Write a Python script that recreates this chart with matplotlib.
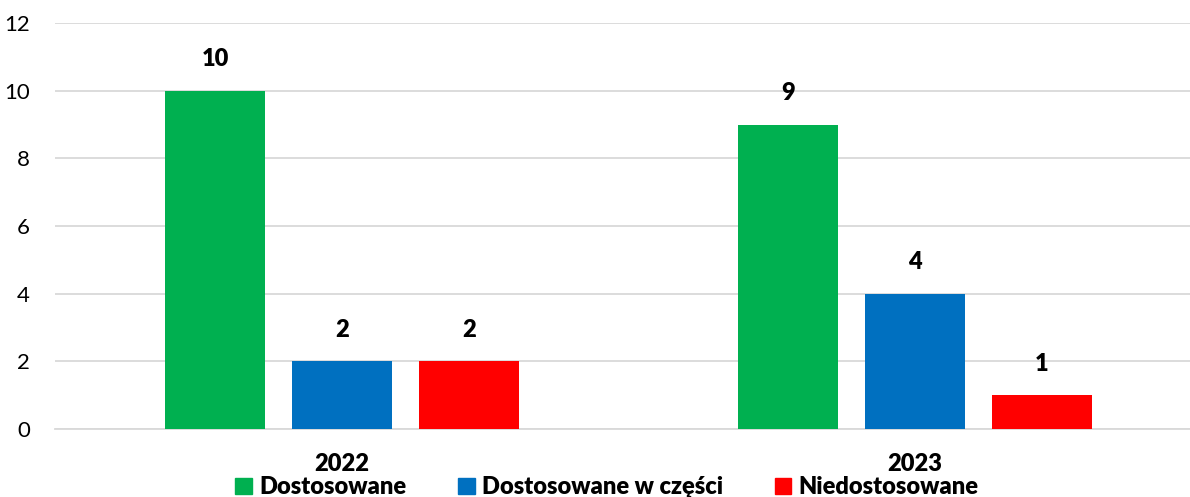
import numpy as np
import matplotlib.pyplot as plt
from matplotlib.patches import Patch

years = ['2022', '2023']
series = ['Dostosowane', 'Dostosowane w części', 'Niedostosowane']
values = {
    'Dostosowane': [10, 9],
    'Dostosowane w części': [2, 4],
    'Niedostosowane': [2, 1],
}
colors = ['#00b050', '#0070c0', '#ff0000']

plt.rcParams['font.family'] = ['Lato', 'DejaVu Sans']

fig = plt.figure(figsize=(11.9, 4.97), dpi=100)
ax = fig.add_axes([55 / 1190, 1 - 429 / 497, 1 - 55 / 1190, (429 - 23) / 497])

x = np.arange(len(years))
width = 0.1745
step = 0.2216
for i, name in enumerate(series):
    pos = x + (i - 1) * step
    bars = ax.bar(pos, values[name], width, color=colors[i], zorder=3)
    for b, v in zip(bars, values[name]):
        ax.text(b.get_x() + b.get_width() / 2, v + 0.6, str(v),
                ha='center', va='bottom', fontsize=17, fontweight='heavy')

ax.set_xlim(-0.501, 1.48)
ax.set_ylim(0, 12)
ax.set_yticks(range(0, 13, 2))
ax.yaxis.grid(True, color='#d9d9d9', linewidth=1.3, zorder=0)
ax.set_xticks(x)
ax.set_xticklabels(years, fontsize=17, fontweight='heavy')
ax.tick_params(axis='x', length=0, pad=17)
ax.tick_params(axis='y', length=0, labelsize=16, pad=18)
for s in ['top', 'right', 'left']:
    ax.spines[s].set_visible(False)
ax.spines['bottom'].set_color('#d9d9d9')
ax.spines['bottom'].set_linewidth(1.3)

handles = [Patch(color=c, label=n) for c, n in zip(colors, series)]
leg = fig.legend(handles=handles, loc='lower center', bbox_to_anchor=(0.51, -0.045),
                 ncol=3, frameon=False, handlelength=0.7, handleheight=0.7,
                 handletextpad=0.3, columnspacing=2.2,
                 prop={'size': 17, 'weight': 'heavy'})

fig.savefig('out.png', dpi=100)
